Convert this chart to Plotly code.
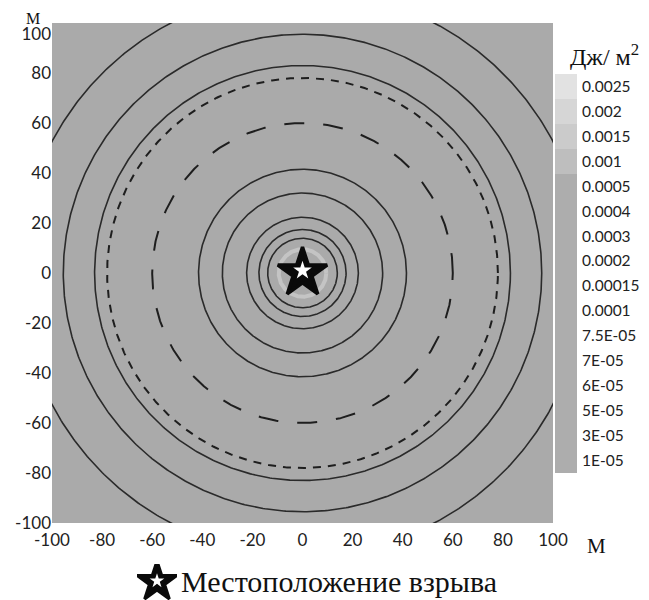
import numpy as np
import plotly.graph_objects as go

# ---- data ----
solid_radii = [113, 95.5, 83, 41.5, 32, 22.3, 17.4, 13.9]
short_dash_radii = [78]
long_dash_radii = [60]
halo_radii = [9.5]
explosion_x = [0]
explosion_y = [0]
x_ticks = [-100, -80, -60, -40, -20, 0, 20, 40, 60, 80, 100]
y_ticks = [-100, -80, -60, -40, -20, 0, 20, 40, 60, 80, 100]
cbar_labels = ["1E-05", "3E-05", "5E-05", "6E-05", "7E-05", "7.5E-05", "0.0001", "0.00015",
               "0.0002", "0.0003", "0.0004", "0.0005", "0.001", "0.0015", "0.002", "0.0025"]
cbar_colors = ["#adadad"] * 12 + ["#bebebe", "#cbcbcb", "#d6d6d6", "#e2e2e2"]

# page body has an 8px margin: work in screen pixels and convert
W, H, OFF = 641, 592, 8
def fx(X):
    return (X - OFF) / W
def fy(Y):
    return 1 - (Y - OFF) / H

theta = np.linspace(0, 2 * np.pi, 721)

fig = go.Figure()

def add_circles(radii, color, width, dash):
    for r in radii:
        fig.add_trace(go.Scatter(x=r * np.cos(theta), y=r * np.sin(theta), mode="lines",
                                 line=dict(color=color, width=width, dash=dash),
                                 hoverinfo="skip", showlegend=False, xaxis="x", yaxis="y"))

add_circles(halo_radii, "#c4c4c4", 4, "solid")
add_circles(solid_radii, "#2a2a2a", 1.6, "solid")
add_circles(short_dash_radii, "#1e1e1e", 2, "8px,7px")
add_circles(long_dash_radii, "#1e1e1e", 2, "20px,19px")

# explosion star
fig.add_trace(go.Scatter(x=explosion_x, y=explosion_y, mode="markers",
                         marker=dict(symbol="star", size=37, color="#0a0a0a",
                                     line=dict(color="#0a0a0a", width=3.5)),
                         hoverinfo="skip", showlegend=False))
fig.add_trace(go.Scatter(x=explosion_x, y=[v + 1.0 for v in explosion_y], mode="markers",
                         marker=dict(symbol="star", size=14, color="white", line=dict(width=0)),
                         hoverinfo="skip", showlegend=False))

# colorbar as a heatmap on its own axes
n = len(cbar_labels)
idx = list(range(n))
fig.add_trace(go.Heatmap(z=[[i] for i in idx], x=[0], y=idx, zmin=0, zmax=n - 1,
                         colorscale=[[i / (n - 1), c] for i, c in enumerate(cbar_colors)],
                         showscale=False, hoverinfo="skip", xaxis="x2", yaxis="y2"))

# legend star
fig.add_trace(go.Scatter(x=[0], y=[0], mode="markers",
                         marker=dict(symbol="star", size=30, color="#0a0a0a",
                                     line=dict(color="#0a0a0a", width=3)),
                         hoverinfo="skip", showlegend=False, xaxis="x3", yaxis="y3"))
fig.add_trace(go.Scatter(x=[0], y=[0.06], mode="markers",
                         marker=dict(symbol="star", size=11, color="white", line=dict(width=0)),
                         hoverinfo="skip", showlegend=False, xaxis="x3", yaxis="y3"))

tickfont = dict(family="Lato", size=17, color="#222222")
cbfont = dict(family="Lato", size=15.5, color="#222222")
x_text = [str(v) for v in x_ticks]
y_text = [("<br>" + str(v)) if v == max(y_ticks) else str(v) for v in y_ticks]
fig.update_layout(
    width=W, height=H,
    margin=dict(l=0, r=0, t=0, b=0),
    paper_bgcolor="white",
    plot_bgcolor="rgba(0,0,0,0)",
    xaxis=dict(domain=[fx(52), fx(553)], range=[-100, 100], tickvals=x_ticks, ticktext=x_text,
               showgrid=False, zeroline=False, showline=False, ticks="", tickfont=tickfont,
               ticklabelstandoff=5, automargin=False, fixedrange=True),
    yaxis=dict(domain=[fy(523), fy(23)], range=[-100, 100], tickvals=y_ticks,
               ticktext=y_text, showgrid=False, zeroline=False, showline=False, ticks="",
               tickfont=tickfont, automargin=False, fixedrange=True),
    xaxis2=dict(domain=[fx(555), fx(577)], anchor="y2", range=[-0.5, 0.5], visible=False,
                automargin=False),
    yaxis2=dict(domain=[fy(473), fy(74)], anchor="x2", side="right",
                range=[-0.5, n - 0.5], tickvals=idx, ticktext=cbar_labels, showgrid=False,
                zeroline=False, showline=False, ticks="", tickfont=cbfont,
                ticklabelstandoff=4, automargin=False),
    xaxis3=dict(domain=[fx(137), fx(177)], anchor="y3", range=[-1, 1], visible=False,
                automargin=False),
    yaxis3=dict(domain=[fy(600), fy(564)], anchor="x3", range=[-1, 1],
                visible=False, automargin=False),
    shapes=[
        dict(type="rect", xref="x domain", yref="y domain", x0=0, x1=1, y0=0, y1=1,
             fillcolor="#aaaaaa", line=dict(width=0), layer="below"),
    ],
    annotations=[
        dict(text="Дж/ м<sup>2</sup>", xref="paper", yref="paper", x=fx(568), y=fy(55),
             xanchor="left", yanchor="middle", showarrow=False,
             font=dict(family="Liberation Serif", size=24, color="#111111")),
        dict(text="М", xref="paper", yref="paper", x=fx(33), y=1,
             xanchor="center", yanchor="top", showarrow=False,
             font=dict(family="Liberation Serif", size=16, color="#111111")),
        dict(text="М", xref="paper", yref="paper", x=fx(596), y=fy(546),
             xanchor="center", yanchor="middle", showarrow=False,
             font=dict(family="Liberation Serif", size=21, color="#111111")),
        dict(text="Местоположение взрыва", xref="paper", yref="paper", x=fx(179), y=fy(581),
             xanchor="left", yanchor="middle", showarrow=False,
             font=dict(family="Liberation Serif", size=30, color="#111111")),
    ],
)

fig.write_html("out.html")
